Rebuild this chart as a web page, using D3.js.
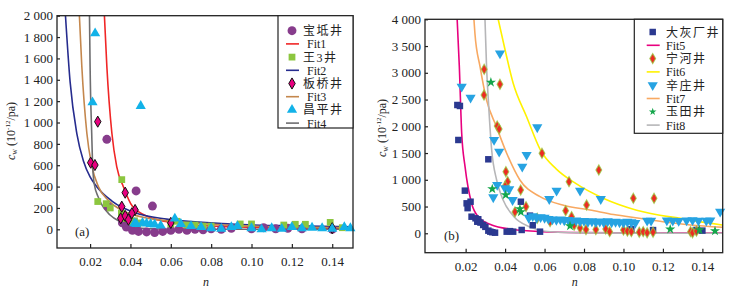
<!DOCTYPE html>
<html>
<head>
<meta charset="utf-8">
<script src="https://cdn.jsdelivr.net/npm/d3@7"></script>
<style>
  body { margin: 0; background: #fff; }
  text { font-family: "Liberation Serif", "Times New Roman", "Noto Sans CJK SC", serif; fill: #222; }
</style>
</head>
<body>
<svg id="chart" width="736" height="292"></svg>
<script>
// ---- panel (a) data ----
const nTicks = [0.02, 0.04, 0.06, 0.08, 0.10, 0.12, 0.14];
const yTicksA = [0, 200, 400, 600, 800, 1000, 1200, 1400, 1600, 1800, 2000];
const yTicksB = [0, 500, 1000, 1500, 2000, 2500, 3000, 3500, 4000];

// 宝坻井
const baodiN = [0.0283, 0.0428, 0.0509, 0.029, 0.036, 0.038, 0.041, 0.044, 0.048, 0.052, 0.056, 0.06, 0.064, 0.068, 0.072, 0.076, 0.08, 0.085, 0.09, 0.1, 0.106, 0.112, 0.118, 0.125, 0.14];
const baodiC = [843, 359, 218, 210, 60, 20, -10, -20, -25, -30, -20, -10, 0, -10, 0, -5, 5, 0, 10, 5, 15, 5, 10, 5, 0];
const fit1N = [0.0271, 0.0283, 0.0308, 0.0332, 0.0365, 0.041, 0.0498, 0.058, 0.0663, 0.0888, 0.11, 0.15];
const fit1C = [2000, 1527, 899, 586, 399, 215, 110, 71, 50, 24, 15, 8];
// 王3井
const wang3N = [0.0238, 0.028, 0.030, 0.0357, 0.0355, 0.038, 0.0407, 0.042, 0.044, 0.06, 0.063, 0.068, 0.072, 0.076, 0.08, 0.0944, 0.100, 0.116, 0.1217, 0.1267, 0.139, 0.145];
const wang3C = [260, 240, 200, 465, 150, 100, 71, 80, 60, 50, 75, 40, 40, 30, 30, 50, 50, 40, 47, 47, 65, 15];
const fit2N = [0.0078, 0.0101, 0.0134, 0.0167, 0.02, 0.0233, 0.0308, 0.0448, 0.058, 0.0894, 0.12, 0.15];
const fit2C = [2000, 1380, 899, 640, 490, 399, 265, 140, 95, 50, 32, 23];
// 板桥井
const banqiaoN = [0.0238, 0.0203, 0.0224, 0.0374, 0.0357, 0.0423, 0.0352, 0.0374, 0.0407, 0.039, 0.06, 0.14];
const banqiaoC = [1008, 624, 602, 343, 212, 181, 103, 125, 150, 90, 60, 10];
const fit3N = [0.0147, 0.0159, 0.0184, 0.0208, 0.0241, 0.0291, 0.0349, 0.0498, 0.0746, 0.0894, 0.12, 0.15];
const fit3C = [2000, 1527, 899, 600, 400, 270, 185, 100, 56, 37, 22, 15];
// 昌平井
const changpingN = [0.0225, 0.0212, 0.0451, 0.0429, 0.042, 0.046, 0.048, 0.05, 0.052, 0.055, 0.062, 0.065, 0.07, 0.075, 0.08, 0.085, 0.09, 0.093, 0.1, 0.105, 0.11, 0.115, 0.12, 0.125, 0.13, 0.135, 0.14, 0.146, 0.149];
const changpingC = [1835, 1189, 1155, 50, 57, 60, 55, 50, 45, 35, 100, 50, 30, 20, 10, 5, 20, 30, 10, 0, 10, 5, 20, 10, 15, 10, 5, 20, 10];
const fit4N = [0.0197, 0.0200, 0.0208, 0.0213, 0.0221, 0.0241, 0.0255, 0.0299, 0.0349, 0.0415, 0.05, 0.07, 0.1, 0.15];
const fit4C = [2000, 1527, 899, 586, 420, 300, 240, 134, 71, 24, 5, 0, 0, 0];

// ---- panel (b) data ----
// 大灰厂井
const dahuiN = [0.0158, 0.0171, 0.0163, 0.0196, 0.0205, 0.021, 0.0225, 0.023, 0.025, 0.0259, 0.0264, 0.0275, 0.0289, 0.030, 0.0315, 0.0325, 0.0335, 0.0349, 0.0315, 0.0408, 0.0425, 0.0441, 0.048, 0.0484, 0.0526, 0.054, 0.0577, 0.104, 0.115, 0.137, 0.14];
const dahuiC = [2398, 2380, 1744, 797, 560, 470, 590, 310, 280, 216, 262, 200, 155, 120, 49, 30, 20, 11, 1383, 30, 40, 30, 590, 62, 330, 150, 30, 75, 60, 62, 50];
const fit5N = [0.0157, 0.0168, 0.018, 0.0197, 0.023, 0.0264, 0.0332, 0.0433, 0.0585, 0.08, 0.11, 0.15];
const fit5C = [4000, 3115, 1869, 1245, 561, 310, 155, 75, 30, 12, 5, 2];
// 宁河井
const ningheN = [0.0294, 0.0293, 0.0374, 0.036, 0.037, 0.0404, 0.0413, 0.0479, 0.0587, 0.0506, 0.0724, 0.0813, 0.0875, 0.0707, 0.0563, 0.105, 0.1155, 0.0737, 0.0628, 0.04, 0.045, 0.075, 0.078, 0.081, 0.086, 0.091, 0.093, 0.1, 0.102, 0.104, 0.108, 0.11, 0.112, 0.115, 0.134, 0.135, 0.137];
const ningheC = [3065, 2585, 2785, 2005, 1949, 1151, 965, 809, 1495, 498, 965, 529, 1183, 422, 280, 654, 654, 310, 217, 880, 400, 150, 100, 70, 70, 80, 30, 60, 40, 30, 20, 30, 10, 20, 30, 10, 40];
const fit6N = [0.0365, 0.04, 0.0441, 0.0509, 0.058, 0.066, 0.075, 0.09, 0.1067, 0.13, 0.15];
const fit6C = [4000, 3426, 2804, 2179, 1550, 1200, 950, 650, 430, 270, 155];
// 辛庄井
const xinzhuangN = [0.018, 0.0225, 0.0374, 0.0344, 0.037, 0.0563, 0.0509, 0.0487, 0.036, 0.034, 0.0421, 0.0438, 0.0661, 0.078, 0.0885, 0.0624, 0.04, 0.149,
  0.052, 0.054, 0.056, 0.058, 0.06, 0.062, 0.064, 0.066, 0.068, 0.07, 0.072, 0.074, 0.076, 0.078, 0.08, 0.082, 0.084, 0.086, 0.088, 0.09, 0.092, 0.094, 0.096, 0.098, 0.1, 0.102, 0.104, 0.106, 0.112, 0.114, 0.122, 0.125, 0.128, 0.132, 0.135, 0.138, 0.142, 0.144];
const xinzhuangC = [2741, 2535, 3364, 1744, 1525, 1981, 1464, 1245, 903, 673, 822, 622, 797, 797, 641, 641, 841, 404,
  290, 320, 290, 300, 290, 270, 260, 250, 260, 240, 250, 230, 240, 225, 230, 215, 225, 210, 220, 205, 225, 205, 215, 205, 200, 215, 205, 195, 235, 235, 240, 235, 230, 240, 245, 235, 235, 240];
const fit7N = [0.0242, 0.0247, 0.0273, 0.0306, 0.0356, 0.0408, 0.0475, 0.0577, 0.07, 0.083, 0.095, 0.108, 0.12, 0.134, 0.15];
const fit7C = [4000, 3738, 3115, 2491, 1993, 1495, 996, 684, 520, 436, 350, 280, 215, 155, 112];
// 玉田井
const yutianN = [0.0328, 0.0335, 0.0403, 0.0475, 0.048, 0.0729, 0.1237, 0.1385, 0.1464];
const yutianC = [2822, 828, 716, 454, 400, 136, 75, 62, 43];
const fit8N = [0.0298, 0.0306, 0.0315, 0.0332, 0.0357, 0.039, 0.0445, 0.0525, 0.063, 0.08, 0.11, 0.15];
const fit8C = [4000, 3115, 2491, 1557, 996, 622, 310, 120, 30, 8, 3, 0];

const svg = d3.select("#chart");
const fmtK = d3.formatLocale({ decimal: ".", thousands: " ", grouping: [3], currency: ["", ""] }).format(",");

function drawPanel(opt) {
  const x = d3.scaleLinear(opt.xDomain, [opt.left, opt.right]);
  const y = d3.scaleLinear(opt.yDomain, [opt.bottom, opt.top]);
  const g = svg.append("g");
  const clipId = opt.id + "-clip";

  g.append("clipPath").attr("id", clipId)
    .append("rect")
    .attr("x", opt.left).attr("y", opt.top)
    .attr("width", opt.right - opt.left).attr("height", opt.bottom - opt.top);

  const xAxis = g.append("g")
    .attr("transform", `translate(0,${opt.bottom})`)
    .call(d3.axisBottom(x).tickValues(nTicks).tickFormat(d3.format(".2f"))
      .tickSizeInner(-4).tickSizeOuter(0).tickPadding(9));
  const yAxis = g.append("g")
    .attr("transform", `translate(${opt.left},0)`)
    .call(d3.axisLeft(y).tickValues(opt.yTicks).tickFormat(fmtK)
      .tickSizeInner(-3).tickSizeOuter(0).tickPadding(4));
  [xAxis, yAxis].forEach((a) => {
    a.select(".domain").remove();
    a.selectAll("line").attr("stroke", "#222").attr("stroke-width", 1.2);
    a.selectAll("text").attr("font-size", 13).attr("font-family", "Liberation Serif, serif").attr("fill", "#222");
  });

  const lines = g.append("g").attr("clip-path", `url(#${clipId})`);
  const lineGen = d3.line().x((d) => x(d[0])).y((d) => y(d[1])).curve(d3.curveMonotoneX);

  opt.layers.forEach((layer) => {
    if (layer.type === "pts") {
      g.append("g").selectAll("path")
        .data(d3.zip(layer.n, layer.c))
        .join("path")
        .attr("transform", (d) => `translate(${x(d[0])},${y(d[1])})${layer.flip ? " rotate(180)" : ""}`)
        .attr("d", d3.symbol(layer.symbol, layer.size))
        .attr("fill", layer.fill)
        .attr("stroke", layer.stroke || "none")
        .attr("stroke-width", layer.sw || 0);
    } else {
      lines.append("path")
        .datum(d3.zip(layer.n, layer.c))
        .attr("d", lineGen)
        .attr("fill", "none")
        .attr("stroke", layer.color)
        .attr("stroke-width", 1.6);
    }
  });

  // frame
  g.append("rect")
    .attr("x", opt.left).attr("y", opt.top)
    .attr("width", opt.right - opt.left).attr("height", opt.bottom - opt.top)
    .attr("fill", "none").attr("stroke", "#222").attr("stroke-width", 1.3);

  // legend
  const lg = opt.legend;
  g.append("rect")
    .attr("x", lg.x0).attr("y", opt.top)
    .attr("width", opt.right - lg.x0).attr("height", lg.y1 - opt.top)
    .attr("fill", "#fff").attr("stroke", "#222").attr("stroke-width", 1.2);
  opt.layers.forEach((layer, i) => {
    const ry = lg.rowY + i * lg.step;
    if (layer.type === "pts") {
      g.append("path")
        .attr("transform", `translate(${lg.symX},${ry})${layer.flip ? " rotate(180)" : ""}`)
        .attr("d", d3.symbol(layer.symbol, layer.legendSize || layer.size))
        .attr("fill", layer.fill)
        .attr("stroke", layer.stroke || "none")
        .attr("stroke-width", layer.sw || 0);
      g.append("text").attr("x", lg.textX).attr("y", ry + 4.5)
        .attr("font-size", 12).attr("letter-spacing", 1.5)
        .attr("font-family", "Noto Sans CJK SC, sans-serif").attr("fill", "#333")
        .text(layer.label);
    } else {
      g.append("line")
        .attr("x1", lg.symX - 6).attr("x2", lg.symX + 7)
        .attr("y1", ry).attr("y2", ry)
        .attr("stroke", layer.color).attr("stroke-width", 1.6);
      g.append("text").attr("x", lg.textX + lg.fitShift).attr("y", ry + 4.5)
        .attr("font-size", 12).attr("fill", "#333")
        .text(layer.label);
    }
  });

  // axis titles
  const lab = g.append("text")
    .attr("transform", `translate(${opt.ylabX},${opt.ylabY}) rotate(-90)`)
    .attr("text-anchor", "middle").attr("font-size", 12);
  lab.append("tspan").attr("font-style", "italic").text("c");
  lab.append("tspan").attr("font-size", 8).attr("dy", 2).text("w");
  lab.append("tspan").attr("dy", -2).text(" (10");
  lab.append("tspan").attr("font-size", 7).attr("dy", -5).text("-12");
  lab.append("tspan").attr("dy", 5).text("/pa)");

  g.append("text").attr("x", (opt.left + opt.right) / 2 + 1).attr("y", 286)
    .attr("text-anchor", "middle").attr("font-style", "italic").attr("font-size", 12)
    .text("n");

  g.append("text").attr("x", opt.tagX).attr("y", y(0) + 7)
    .attr("font-size", 13).text(opt.tag);
}

drawPanel({
  id: "a",
  xDomain: [0.0036, 0.1503], yDomain: [-175, 2000],
  left: 57, right: 353, top: 15.7, bottom: 248,
  yTicks: yTicksA,
  ylabX: 15, ylabY: 131, tag: "(a)", tagX: 75,
  legend: { x0: 278, y1: 128, rowY: 30.7, step: 13.2, symX: 292, textX: 303, fitShift: 4 },
  layers: [
    { type: "pts", n: baodiN, c: baodiC, symbol: d3.symbolCircle, size: 62, fill: "#873c8c", label: "宝坻井" },
    { type: "fit", n: fit1N, c: fit1C, color: "#f02626", label: "Fit1" },
    { type: "pts", n: wang3N, c: wang3C, symbol: d3.symbolSquare, size: 46, fill: "#8cc63f", label: "王3井" },
    { type: "fit", n: fit2N, c: fit2C, color: "#262c8e", label: "Fit2" },
    { type: "pts", n: banqiaoN, c: banqiaoC, symbol: d3.symbolDiamond, size: 36, fill: "#e8007f", stroke: "#111", sw: 1, label: "板桥井" },
    { type: "fit", n: fit3N, c: fit3C, color: "#c4874d", label: "Fit3" },
    { type: "pts", n: changpingN, c: changpingC, symbol: d3.symbolTriangle, size: 45, fill: "#12b2e8", label: "昌平井" },
    { type: "fit", n: fit4N, c: fit4C, color: "#6e6e70", label: "Fit4" }
  ]
});

drawPanel({
  id: "b",
  xDomain: [-0.0006, 0.1503], yDomain: [-363, 4000],
  left: 425, right: 722.7, top: 19.3, bottom: 252.7,
  yTicks: yTicksB,
  ylabX: 386, ylabY: 128, tag: "(b)", tagX: 444,
  legend: { x0: 634.3, y1: 133.3, rowY: 32, step: 13.3, symX: 652.7, textX: 666, fitShift: 0 },
  layers: [
    { type: "pts", n: dahuiN, c: dahuiC, symbol: d3.symbolSquare, size: 42, fill: "#2b3990", label: "大灰厂井" },
    { type: "fit", n: fit5N, c: fit5C, color: "#e8007f", label: "Fit5" },
    { type: "pts", n: ningheN, c: ningheC, symbol: d3.symbolDiamond, size: 30, fill: "#ee2a24", stroke: "rgba(150,200,60,0.75)", sw: 1.1, label: "宁河井" },
    { type: "fit", n: fit6N, c: fit6C, color: "#fff200", label: "Fit6" },
    { type: "pts", n: xinzhuangN, c: xinzhuangC, symbol: d3.symbolTriangle, size: 45, fill: "#27a3e2", flip: true, label: "辛庄井" },
    { type: "fit", n: fit7N, c: fit7C, color: "#f8a962", label: "Fit7" },
    { type: "pts", n: yutianN, c: yutianC, symbol: d3.symbolStar, size: 32, fill: "#14a64b", legendSize: 18, label: "玉田井" },
    { type: "fit", n: fit8N, c: fit8C, color: "#b6b6b8", label: "Fit8" }
  ]
});
</script>
</body>
</html>
